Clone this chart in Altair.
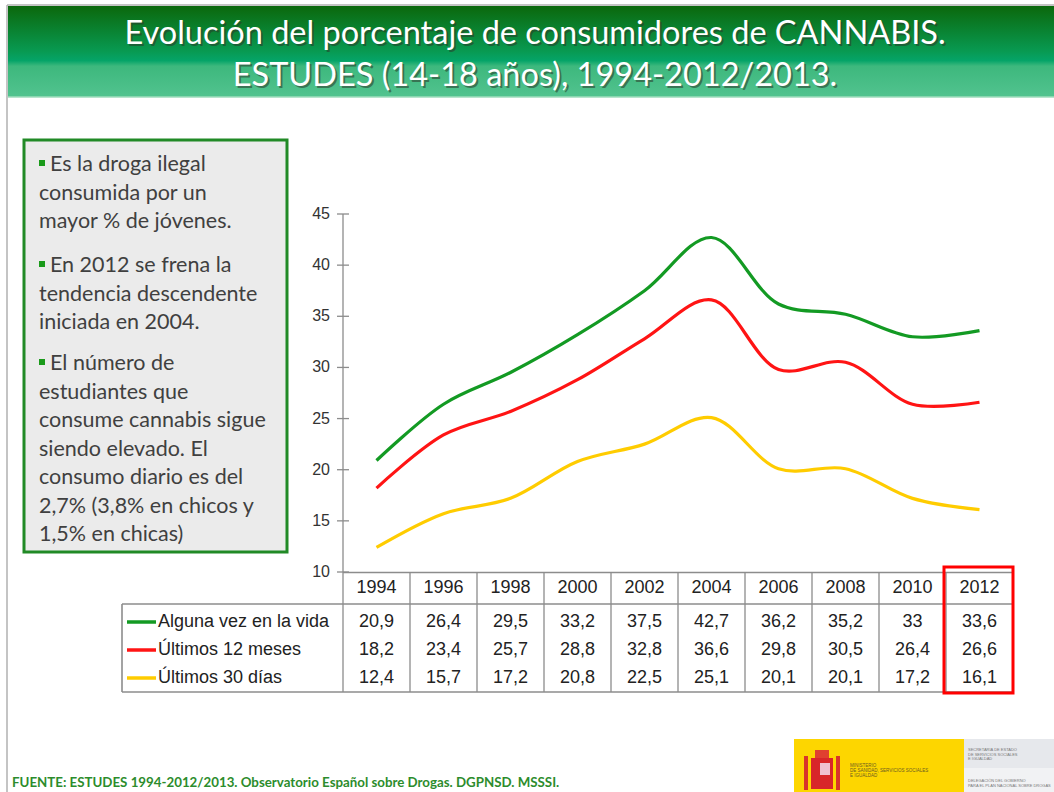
import altair as alt
import pandas as pd

# ---------------- data ----------------
years = [1994, 1996, 1998, 2000, 2002, 2004, 2006, 2008, 2010, 2012]
series = ["Alguna vez en la vida", "Últimos 12 meses", "Últimos 30 días"]
alguna_vez = [20.9, 26.4, 29.5, 33.2, 37.5, 42.7, 36.2, 35.2, 33, 33.6]
ultimos_12 = [18.2, 23.4, 25.7, 28.8, 32.8, 36.6, 29.8, 30.5, 26.4, 26.6]
ultimos_30 = [12.4, 15.7, 17.2, 20.8, 22.5, 25.1, 20.1, 20.1, 17.2, 16.1]
y_ticks = [10, 15, 20, 25, 30, 35, 40, 45]
y_range = [10, 45]
col_bounds = [1995, 1997, 1999, 2001, 2003, 2005, 2007, 2009, 2011]
colors = ["#139a23", "#ff1414", "#ffcc00"]

title_lines = ["Evolución del porcentaje de consumidores de CANNABIS.",
               "ESTUDES (14-18 años), 1994-2012/2013."]
box_paragraphs = [
    ["Es la droga ilegal", "consumida por un", "mayor % de jóvenes."],
    ["En 2012 se frena la", "tendencia descendente", "iniciada en 2004."],
    ["El número de", "estudiantes que", "consume cannabis sigue", "siendo elevado. El",
     "consumo diario es del", "2,7% (3,8% en chicos y", "1,5% en chicas)"],
]
footer = "FUENTE: ESTUDES 1994-2012/2013. Observatorio Español sobre Drogas. DGPNSD. MSSSI."

# ---------------- tables ----------------
rows = []
for name, vals in zip(series, [alguna_vez, ultimos_12, ultimos_30]):
    for yr, v in zip(years, vals):
        rows.append({"year": yr, "serie": name, "value": v,
                     "label": f"{v:g}".replace(".", ",")})
df = pd.DataFrame(rows)
df_years = pd.DataFrame({"year": years, "label": [str(y) for y in years]})
df_ticks = pd.DataFrame({"v": y_ticks})
df_axis = pd.DataFrame({"lo": [y_range[0]], "hi": [y_range[1]]})
df_bounds = pd.DataFrame({"b": col_bounds})
dummy = pd.DataFrame({"d": [0]})

W, H = 1054, 792
xscale = alt.Scale(domain=[1993, 2013], range=[343, 1013])
yscale = alt.Scale(domain=y_range, range=[572, 214])
cscale = alt.Scale(domain=series, range=colors)

TF = "Lato"
AF = "Liberation Sans"


def box(x, x2, y, y2, **kw):
    return alt.Chart(dummy).mark_rect(**kw).encode(
        x=alt.value(x), x2=alt.value(x2), y=alt.value(y), y2=alt.value(y2))


def hline(x, x2, y, color="#8c8c8c", w=1.3):
    return alt.Chart(dummy).mark_rule(color=color, strokeWidth=w).encode(
        x=alt.value(x), x2=alt.value(x2), y=alt.value(y))


def vline(x, y, y2, color="#8c8c8c", w=1.3):
    return alt.Chart(dummy).mark_rule(color=color, strokeWidth=w).encode(
        x=alt.value(x), y=alt.value(y), y2=alt.value(y2))


def txt(s, x, y, **kw):
    return alt.Chart(dummy).mark_text(text=s, **kw).encode(
        x=alt.value(x), y=alt.value(y))


layers = []

# slide background and borders
layers.append(box(0, W, 0, H, color="white"))
layers.append(hline(7, W, 5, color="#b0b0b0", w=1.5))
layers.append(vline(7, 5, H, color="#b0b0b0", w=1.5))

# header gradient
grad = alt.Gradient(
    gradient="linear",
    stops=[alt.GradientStop(color="#0b680c", offset=0),
           alt.GradientStop(color="#089a52", offset=0.5),
           alt.GradientStop(color="#05a468", offset=0.6),
           alt.GradientStop(color="#3db87d", offset=0.66),
           alt.GradientStop(color="#52c38f", offset=1)],
    x1=0, x2=0, y1=0, y2=1)
layers.append(box(8, W, 6, 97, color=grad))
layers.append(hline(8, W, 97, color="#9fdcbc", w=1.5))

# title with shadow
for i, line in enumerate(title_lines):
    yb = 44 + i * 42
    layers.append(txt(line, 537, yb + 2, font=TF, fontSize=32.5, color="#2b3a2b",
                      opacity=0.55, align="center", baseline="alphabetic"))
    layers.append(txt(line, 535, yb, font=TF, fontSize=32.5, color="white",
                      align="center", baseline="alphabetic"))

# left text box
layers.append(box(24, 287, 140, 552, fill="#ebebeb", stroke="#218a26", strokeWidth=3))
para_starts = [171, 272, 370]
LH = 28.5
for p, start in zip(box_paragraphs, para_starts):
    layers.append(box(39, 45, start - 11, start - 5, color="#1a9a1a"))
    for j, line in enumerate(p):
        x0 = 50 if j == 0 else 39
        layers.append(txt(line, x0, start + j * LH, font=TF, fontSize=21.5,
                          color="#404040", align="left", baseline="alphabetic"))

# y axis (drawn through the y scale)
axis_line = alt.Chart(df_axis).mark_rule(color="#8c8c8c", strokeWidth=1.3).encode(
    x=alt.value(343), y=alt.Y("hi:Q", scale=yscale, axis=None), y2="lo:Q")
tick_marks = alt.Chart(df_ticks).mark_rule(color="#8c8c8c", strokeWidth=1.3).encode(
    x=alt.value(337), x2=alt.value(349),
    y=alt.Y("v:Q", scale=yscale, axis=None))
tick_labels = alt.Chart(df_ticks).mark_text(
    font=AF, fontSize=16, color="#333333", align="right", baseline="middle").encode(
    x=alt.value(330), y=alt.Y("v:Q", scale=yscale, axis=None), text="v:Q")
layers += [axis_line, tick_marks, tick_labels]

# table grid
layers.append(hline(343, 1013, 572.5))
layers.append(hline(122, 1013, 604, w=1.6))
layers.append(hline(122, 1013, 692, w=1.6))
layers.append(vline(122, 604, 692, w=1.6))
layers.append(vline(343, 572, 692))
layers.append(vline(1013, 572, 692))
bounds = alt.Chart(df_bounds).mark_rule(color="#8c8c8c", strokeWidth=1.3).encode(
    x=alt.X("b:Q", scale=xscale, axis=None), y=alt.value(572.5), y2=alt.value(692))
layers.append(bounds)

# year header
year_labels = alt.Chart(df_years).mark_text(
    font=AF, fontSize=18, color="#222222", align="center", baseline="middle").encode(
    x=alt.X("year:Q", scale=xscale, axis=None), y=alt.value(588), text="label:N")
layers.append(year_labels)

# lines
lines = alt.Chart(df).mark_line(strokeWidth=3.2, interpolate="catmull-rom").encode(
    x=alt.X("year:Q", scale=xscale, axis=None),
    y=alt.Y("value:Q", scale=yscale, axis=None),
    color=alt.Color("serie:N", scale=cscale, legend=None),
    detail="serie:N")
layers.append(lines)

# table rows: legend swatch, label, values
row_y = [622, 650, 678]
for name, col, ry in zip(series, colors, row_y):
    layers.append(alt.Chart(dummy).mark_rule(color=col, strokeWidth=3.5).encode(
        x=alt.value(127), x2=alt.value(156), y=alt.value(ry)))
    layers.append(txt(name, 158, ry, font=AF, fontSize=18, color="#222222",
                      align="left", baseline="middle"))
    vals = alt.Chart(df).transform_filter(alt.datum.serie == name).mark_text(
        font=AF, fontSize=18, color="#222222", align="center", baseline="middle").encode(
        x=alt.X("year:Q", scale=xscale, axis=None), y=alt.value(ry), text="label:N")
    layers.append(vals)

# red highlight box for 2012
layers.append(box(944, 1013, 567, 693, fill="transparent", stroke="#ff0000", strokeWidth=3))

# footer
layers.append(txt(footer, 12, 787, font=TF, fontSize=13.3, fontWeight="bold",
                  color="#2c8c2c", align="left", baseline="alphabetic"))

# logo
layers.append(box(794, 964, 739, H, color="#fdd600"))
layers.append(box(964, W, 739, 768, color="#e6e8ec"))
layers.append(box(964, W, 768, H, color="#f1f2f4"))
layers.append(box(804, 808, 756, 790, color="#d8352a"))
layers.append(box(836, 840, 756, 790, color="#d8352a"))
layers.append(box(811, 833, 758, 789, color="#d8262a"))
layers.append(box(815, 829, 750, 758, color="#e04030"))
layers.append(box(820, 830, 763, 775, color="#f0c0d0"))
for k, s in enumerate(["MINISTERIO", "DE SANIDAD, SERVICIOS SOCIALES", "E IGUALDAD"]):
    layers.append(txt(s, 850, 766 + k * 5, font=AF, fontSize=4.5, color="#6b5a20",
                      align="left", baseline="middle"))
for k, s in enumerate(["SECRETARÍA DE ESTADO", "DE SERVICIOS SOCIALES", "E IGUALDAD"]):
    layers.append(txt(s, 968, 750 + k * 4.5, font=AF, fontSize=4, color="#777777",
                      align="left", baseline="middle"))
for k, s in enumerate(["DELEGACIÓN DEL GOBIERNO", "PARA EL PLAN NACIONAL SOBRE DROGAS"]):
    layers.append(txt(s, 968, 781 + k * 4.5, font=AF, fontSize=4, color="#777777",
                      align="left", baseline="middle"))

chart = alt.layer(*layers).properties(
    width=W, height=H, padding=0, autosize=alt.AutoSizeParams(type="none")
).configure_view(stroke=None)

chart.save("out.html", embed_options={"renderer": "svg", "actions": False})
